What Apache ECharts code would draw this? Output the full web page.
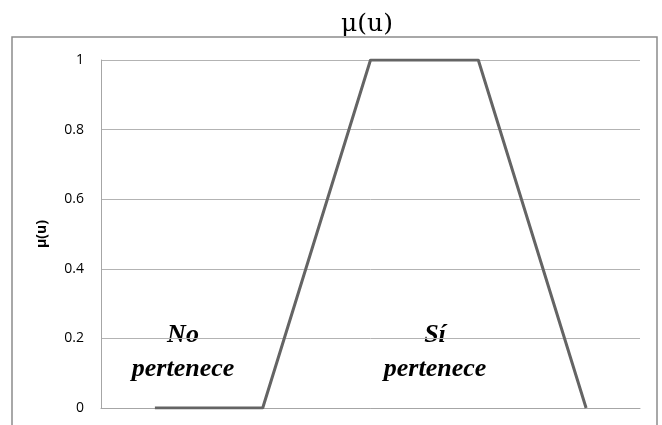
<!DOCTYPE html>
<html>
<head>
<meta charset="utf-8">
<script src="https://cdn.jsdelivr.net/npm/echarts@6/dist/echarts.min.js"></script>
<style>
  html, body { margin: 0; padding: 0; background: #fff; }
  #chart { width: 662px; height: 425px; }
</style>
</head>
<body>
<div id="chart"></div>
<script>
// datos de la función de pertenencia
var categorias = ['1', '2', '3', '4', '5']
var valores = [0, 0, 1, 1, 0]
var etiquetas = ['No\npertenece', 'Sí\npertenece']

var myChart = echarts.init(document.getElementById('chart'))

function etiqueta(texto, x) {
    return {
        type: 'text',
        x: x, y: 318,
        style: {
            text: texto,
            align: 'center',
            fontFamily: 'Liberation Serif',
            fontStyle: 'italic',
            fontWeight: 'bold',
            fontSize: 26,
            lineHeight: 34,
            fill: '#000'
        }
    }
}

var option = {
    animation: false,
    title: {
        text: 'μ(u)',
        left: 362,
        textAlign: 'center',
        top: 7,
        textStyle: {
            fontFamily: 'DejaVu Serif',
            fontWeight: 'normal',
            fontSize: 25,
            color: '#000'
        }
    },
    grid: {
        left: 101,
        right: 22,
        top: 60,
        bottom: 17
    },
    xAxis: {
        type: 'category',
        data: categorias,
        boundaryGap: true,
        axisLine: { lineStyle: { color: '#a6a6a6', width: 1 } },
        axisTick: { show: false },
        axisLabel: { show: false }
    },
    yAxis: {
        type: 'value',
        min: 0,
        max: 1,
        interval: 0.2,
        name: 'μ(u)',
        nameLocation: 'middle',
        nameGap: 52,
        nameTextStyle: {
            fontFamily: 'Open Sans',
            fontWeight: 'bold',
            fontSize: 14,
            color: '#000'
        },
        axisLine: { show: true, lineStyle: { color: '#a6a6a6', width: 1 } },
        axisTick: { show: false },
        splitLine: { lineStyle: { color: '#b3b3b3', width: 1 } },
        axisLabel: {
            margin: 17,
            fontFamily: 'Open Sans',
            fontSize: 14,
            color: '#000',
            formatter: function (v) {
                return String(Math.round(v * 10) / 10)
            }
        }
    },
    graphic: [
        {
            type: 'rect',
            shape: { x: 12, y: 37, width: 645, height: 400 },
            style: { fill: 'none', stroke: '#8c8c8c', lineWidth: 1.5 },
            z: -1
        },
        etiqueta(etiquetas[0], 183),
        etiqueta(etiquetas[1], 435)
    ],
    series: [
        {
            name: 'μ(u)',
            type: 'line',
            data: valores,
            symbol: 'none',
            lineStyle: { color: '#646464', width: 3 }
        }
    ]
}

myChart.setOption(option)
</script>
</body>
</html>
